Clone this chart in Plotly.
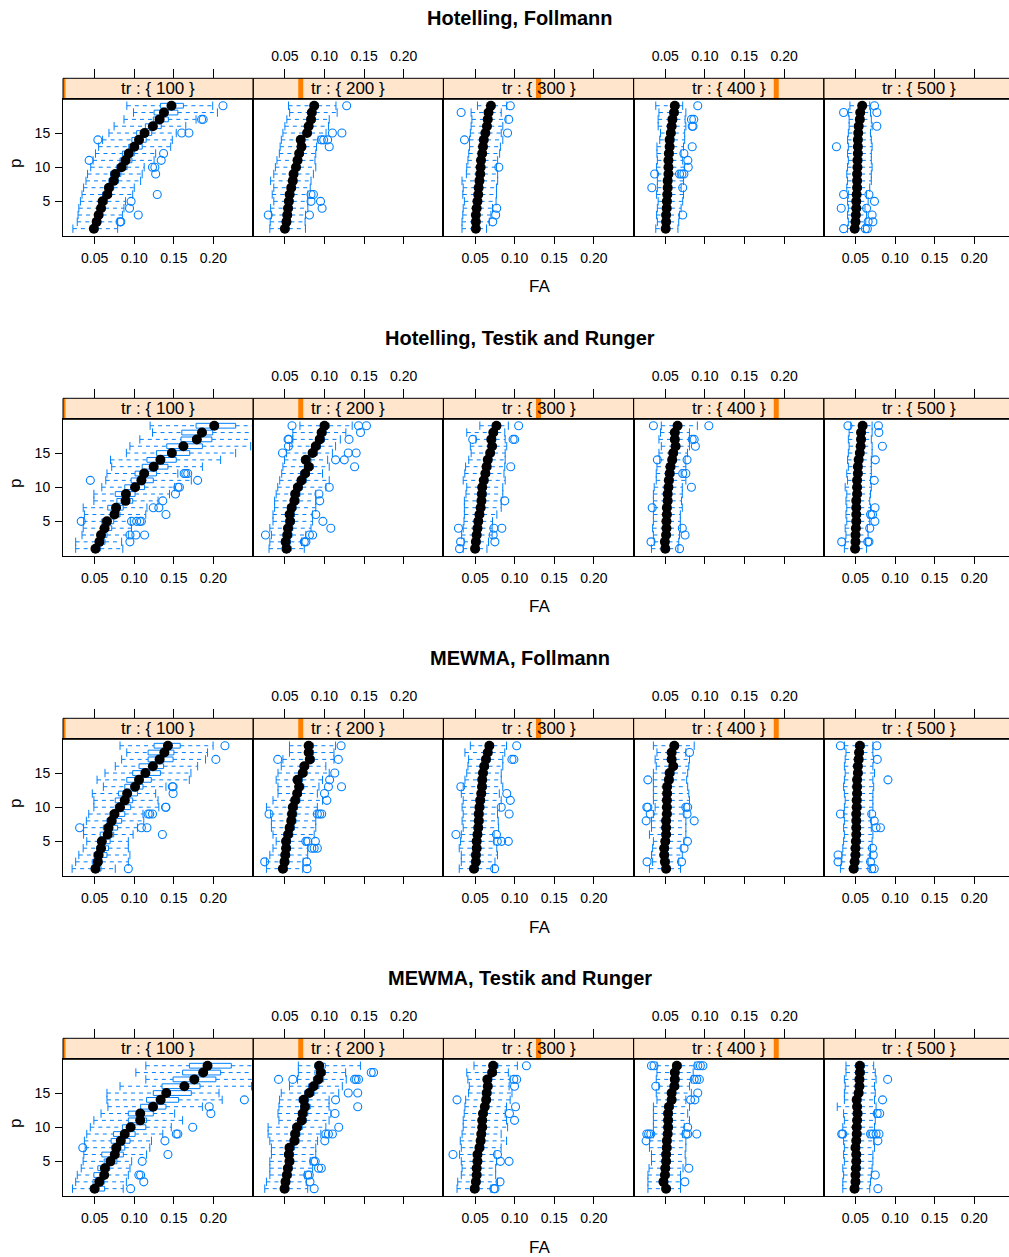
import plotly.graph_objects as go

# ---------------- data ----------------
P = list(range(1, 20))
TR = [100, 200, 300, 400, 500]
TITLES = ["Hotelling, Follmann", "Hotelling, Testik and Runger",
          "MEWMA, Follmann", "MEWMA, Testik and Runger"]
X_TICKS = [0.05, 0.10, 0.15, 0.20]
X_TICK_TEXT = ["0.05", "0.10", "0.15", "0.20"]
Y_TICKS = [5, 10, 15]

# ---- Hotelling, Follmann ----
HF100_med = [0.049, 0.0525, 0.055, 0.058, 0.060, 0.066, 0.068, 0.074, 0.076, 0.084, 0.089, 0.093, 0.100, 0.106, 0.113, 0.1235, 0.132, 0.1375, 0.147]
HF100_lo = [0.0225, 0.028, 0.029, 0.030, 0.032, 0.034, 0.036, 0.039, 0.041, 0.045, 0.048, 0.051, 0.055, 0.060, 0.068, 0.0745, 0.087, 0.099, 0.0906]
HF100_hi = [0.079, 0.079, 0.085, 0.087, 0.089, 0.098, 0.100, 0.108, 0.110, 0.1125, 0.125, 0.127, 0.146, 0.148, 0.153, 0.165, 0.178, 0.205, 0.199]
HF100_q1 = [0.045, 0.049, 0.051, 0.054, 0.056, 0.060, 0.063, 0.068, 0.070, 0.078, 0.082, 0.085, 0.093, 0.097, 0.103, 0.114, 0.124, 0.125, 0.133]
HF100_q3 = [0.054, 0.057, 0.060, 0.063, 0.066, 0.071, 0.074, 0.080, 0.083, 0.091, 0.097, 0.100, 0.110, 0.115, 0.122, 0.134, 0.143, 0.155, 0.162]
HF100_out_p = [19, 17, 17, 15, 15, 14, 12, 11, 11, 10, 10, 9, 6, 5, 4, 3, 2, 2]
HF100_out_x = [0.212, 0.185, 0.187, 0.160, 0.169, 0.054, 0.137, 0.043, 0.134, 0.123, 0.126, 0.127, 0.129, 0.096, 0.094, 0.105, 0.082, 0.083]

HF200_med = [0.050, 0.052, 0.053, 0.054, 0.055, 0.056, 0.058, 0.060, 0.061, 0.064, 0.066, 0.068, 0.071, 0.070, 0.078, 0.080, 0.083, 0.084, 0.087]
HF200_lo = [0.031, 0.0315, 0.033, 0.032, 0.036, 0.034, 0.036, 0.032, 0.036, 0.038, 0.040, 0.043, 0.044, 0.0455, 0.0475, 0.050, 0.0525, 0.056, 0.0546]
HF200_hi = [0.076, 0.0755, 0.076, 0.079, 0.079, 0.079, 0.082, 0.083, 0.086, 0.089, 0.088, 0.089, 0.090, 0.092, 0.102, 0.105, 0.106, 0.116, 0.1145]
HF200_q1 = [0.046, 0.048, 0.049, 0.050, 0.051, 0.052, 0.054, 0.056, 0.057, 0.060, 0.062, 0.064, 0.067, 0.066, 0.074, 0.076, 0.079, 0.080, 0.083]
HF200_q3 = [0.055, 0.057, 0.058, 0.059, 0.060, 0.061, 0.063, 0.065, 0.066, 0.069, 0.071, 0.073, 0.076, 0.075, 0.083, 0.085, 0.088, 0.089, 0.092]
HF200_out_p = [19, 15, 15, 14, 14, 14, 13, 6, 6, 5, 5, 4, 3, 3]
HF200_out_x = [0.128, 0.110, 0.122, 0.096, 0.099, 0.104, 0.106, 0.083, 0.086, 0.083, 0.095, 0.097, 0.029, 0.081]

HF300_med = [0.051, 0.051, 0.051, 0.052, 0.053, 0.054, 0.0545, 0.0555, 0.0565, 0.057, 0.0575, 0.059, 0.060, 0.061, 0.063, 0.065, 0.066, 0.067, 0.070]
HF300_lo = [0.0335, 0.0335, 0.0345, 0.035, 0.0365, 0.0345, 0.035, 0.0335, 0.039, 0.0395, 0.041, 0.042, 0.043, 0.043, 0.044, 0.045, 0.046, 0.045, 0.053]
HF300_hi = [0.0645, 0.068, 0.070, 0.072, 0.0765, 0.077, 0.077, 0.0785, 0.0785, 0.077, 0.0785, 0.081, 0.082, 0.085, 0.083, 0.085, 0.089, 0.083, 0.090]
HF300_q1 = [0.048, 0.048, 0.048, 0.049, 0.050, 0.051, 0.051, 0.052, 0.053, 0.054, 0.054, 0.056, 0.057, 0.058, 0.060, 0.062, 0.063, 0.064, 0.067]
HF300_q3 = [0.055, 0.055, 0.055, 0.056, 0.057, 0.058, 0.059, 0.060, 0.061, 0.061, 0.062, 0.063, 0.064, 0.065, 0.067, 0.069, 0.070, 0.071, 0.074]
HF300_out_p = [19, 18, 17, 15, 14, 10, 4, 3, 2]
HF300_out_x = [0.0945, 0.0324, 0.0925, 0.091, 0.0366, 0.080, 0.0773, 0.076, 0.0723]

HF400_med = [0.0505, 0.051, 0.051, 0.0517, 0.052, 0.0525, 0.053, 0.053, 0.054, 0.054, 0.054, 0.0545, 0.0555, 0.0555, 0.057, 0.058, 0.059, 0.061, 0.062]
HF400_lo = [0.038, 0.040, 0.039, 0.040, 0.041, 0.039, 0.040, 0.040, 0.040, 0.039, 0.040, 0.0395, 0.0395, 0.043, 0.044, 0.041, 0.041, 0.042, 0.038]
HF400_hi = [0.066, 0.067, 0.068, 0.070, 0.072, 0.073, 0.070, 0.073, 0.066, 0.074, 0.072, 0.070, 0.073, 0.0745, 0.0745, 0.076, 0.075, 0.076, 0.072]
HF400_q1 = [0.047, 0.047, 0.047, 0.048, 0.048, 0.049, 0.049, 0.049, 0.050, 0.050, 0.050, 0.051, 0.051, 0.052, 0.053, 0.054, 0.055, 0.057, 0.058]
HF400_q3 = [0.055, 0.056, 0.056, 0.057, 0.057, 0.058, 0.058, 0.058, 0.059, 0.059, 0.059, 0.060, 0.060, 0.061, 0.062, 0.063, 0.064, 0.066, 0.067]
HF400_out_p = [19, 17, 17, 16, 16, 13, 12, 11, 10, 9, 9, 9, 9, 7, 7, 3]
HF400_out_x = [0.091, 0.083, 0.086, 0.084, 0.085, 0.084, 0.0735, 0.0785, 0.079, 0.0366, 0.068, 0.071, 0.0735, 0.033, 0.072, 0.072]

HF500_med = [0.049, 0.050, 0.0505, 0.051, 0.051, 0.0515, 0.052, 0.052, 0.052, 0.0525, 0.0525, 0.053, 0.053, 0.053, 0.0535, 0.054, 0.0555, 0.056, 0.0585]
HF500_lo = [0.040, 0.041, 0.040, 0.041, 0.040, 0.041, 0.039, 0.040, 0.039, 0.040, 0.041, 0.040, 0.041, 0.040, 0.041, 0.042, 0.042, 0.041, 0.043]
HF500_hi = [0.060, 0.063, 0.064, 0.062, 0.066, 0.064, 0.068, 0.070, 0.070, 0.071, 0.070, 0.070, 0.071, 0.070, 0.069, 0.071, 0.070, 0.069, 0.068]
HF500_q1 = [0.046, 0.046, 0.047, 0.047, 0.047, 0.048, 0.048, 0.048, 0.048, 0.049, 0.049, 0.049, 0.049, 0.049, 0.050, 0.050, 0.052, 0.052, 0.055]
HF500_q3 = [0.054, 0.055, 0.055, 0.056, 0.056, 0.056, 0.057, 0.057, 0.057, 0.057, 0.058, 0.058, 0.058, 0.058, 0.058, 0.059, 0.060, 0.061, 0.063]
HF500_out_p = [19, 18, 18, 16, 13, 6, 6, 5, 4, 4, 3, 2, 2, 1, 1, 1]
HF500_out_x = [0.074, 0.035, 0.077, 0.077, 0.026, 0.035, 0.067, 0.074, 0.032, 0.064, 0.071, 0.066, 0.072, 0.035, 0.0625, 0.065]

# ---- Hotelling, Testik and Runger ----
HT100_med = [0.051, 0.056, 0.058, 0.0625, 0.0655, 0.075, 0.077, 0.089, 0.0895, 0.101, 0.109, 0.1125, 0.1245, 0.133, 0.1475, 0.162, 0.179, 0.1855, 0.201]
HT100_lo = [0.026, 0.026, 0.034, 0.0355, 0.036, 0.037, 0.0355, 0.049, 0.049, 0.059, 0.064, 0.0655, 0.0715, 0.070, 0.090, 0.0945, 0.107, 0.123, 0.120]
HT100_hi = [0.0855, 0.084, 0.0925, 0.0965, 0.095, 0.1145, 0.116, 0.130, 0.1445, 0.151, 0.172, 0.155, 0.186, 0.209, 0.228, 0.247, 0.26, 0.26, 0.26]
HT100_q1 = [0.047, 0.052, 0.054, 0.058, 0.059, 0.070, 0.0665, 0.078, 0.076, 0.088, 0.096, 0.101, 0.110, 0.116, 0.128, 0.141, 0.159, 0.160, 0.178]
HT100_q3 = [0.057, 0.063, 0.0655, 0.0715, 0.074, 0.082, 0.086, 0.098, 0.101, 0.113, 0.124, 0.128, 0.1425, 0.153, 0.170, 0.186, 0.198, 0.199, 0.228]
HT100_out_p = [12, 12, 12, 11, 11, 10, 10, 9, 8, 7, 7, 6, 5, 5, 5, 5, 5, 3, 3, 3, 2]
HT100_out_x = [0.163, 0.165, 0.1675, 0.0445, 0.180, 0.155, 0.157, 0.152, 0.136, 0.124, 0.131, 0.140, 0.033, 0.0965, 0.103, 0.107, 0.109, 0.0945, 0.102, 0.113, 0.0945]

HT200_med = [0.052, 0.051, 0.053, 0.054, 0.0565, 0.056, 0.0585, 0.062, 0.063, 0.0665, 0.071, 0.0755, 0.080, 0.0765, 0.085, 0.089, 0.094, 0.0965, 0.100]
HT200_lo = [0.030, 0.031, 0.033, 0.031, 0.035, 0.035, 0.037, 0.037, 0.039, 0.041, 0.0435, 0.046, 0.0475, 0.0495, 0.052, 0.056, 0.060, 0.060, 0.069]
HT200_hi = [0.0745, 0.071, 0.0765, 0.083, 0.085, 0.085, 0.089, 0.089, 0.089, 0.102, 0.106, 0.0975, 0.106, 0.104, 0.110, 0.114, 0.120, 0.127, 0.135]
HT200_q1 = [0.047, 0.046, 0.048, 0.049, 0.052, 0.051, 0.054, 0.057, 0.058, 0.061, 0.066, 0.070, 0.075, 0.071, 0.080, 0.084, 0.089, 0.091, 0.095]
HT200_q3 = [0.058, 0.057, 0.059, 0.060, 0.062, 0.062, 0.064, 0.068, 0.069, 0.072, 0.077, 0.081, 0.086, 0.083, 0.091, 0.095, 0.100, 0.102, 0.106]
HT200_out_p = [19, 19, 19, 18, 17, 17, 17, 16, 15, 15, 15, 14, 14, 13, 10, 9, 8, 6, 5, 4, 3, 3, 3, 2, 2]
HT200_out_x = [0.059, 0.143, 0.153, 0.1455, 0.054, 0.055, 0.131, 0.0545, 0.047, 0.130, 0.140, 0.114, 0.125, 0.138, 0.106, 0.093, 0.094, 0.089, 0.098, 0.108, 0.0255, 0.081, 0.085, 0.0745, 0.0765]

HT300_med = [0.050, 0.051, 0.052, 0.053, 0.054, 0.0555, 0.057, 0.058, 0.0585, 0.059, 0.061, 0.063, 0.0645, 0.066, 0.069, 0.0715, 0.0705, 0.073, 0.077]
HT300_lo = [0.035, 0.036, 0.033, 0.035, 0.036, 0.0365, 0.0365, 0.0365, 0.0385, 0.0395, 0.035, 0.037, 0.038, 0.042, 0.045, 0.044, 0.051, 0.0395, 0.056]
HT300_hi = [0.065, 0.067, 0.0715, 0.0715, 0.072, 0.0775, 0.083, 0.083, 0.085, 0.085, 0.088, 0.0865, 0.0875, 0.088, 0.088, 0.090, 0.088, 0.0875, 0.092]
HT300_q1 = [0.047, 0.048, 0.049, 0.050, 0.051, 0.052, 0.054, 0.055, 0.055, 0.056, 0.058, 0.060, 0.061, 0.063, 0.066, 0.068, 0.067, 0.070, 0.073]
HT300_q3 = [0.055, 0.056, 0.057, 0.058, 0.059, 0.060, 0.062, 0.063, 0.064, 0.064, 0.066, 0.068, 0.070, 0.071, 0.074, 0.076, 0.076, 0.078, 0.082]
HT300_out_p = [19, 17, 17, 17, 13, 8, 4, 4, 4, 3, 2, 2, 1]
HT300_out_x = [0.105, 0.047, 0.098, 0.100, 0.095, 0.0875, 0.029, 0.0737, 0.0838, 0.0728, 0.0317, 0.075, 0.0304]

HT400_med = [0.050, 0.0495, 0.051, 0.0515, 0.0515, 0.052, 0.052, 0.053, 0.053, 0.054, 0.0545, 0.0555, 0.0565, 0.0587, 0.060, 0.063, 0.062, 0.062, 0.0655]
HT400_lo = [0.0326, 0.036, 0.035, 0.034, 0.035, 0.035, 0.036, 0.035, 0.035, 0.036, 0.0386, 0.0386, 0.0395, 0.043, 0.042, 0.045, 0.042, 0.044, 0.045]
HT400_hi = [0.066, 0.067, 0.068, 0.069, 0.069, 0.069, 0.0715, 0.0705, 0.0715, 0.0715, 0.076, 0.070, 0.076, 0.075, 0.078, 0.0805, 0.0805, 0.0805, 0.0905]
HT400_q1 = [0.046, 0.046, 0.047, 0.048, 0.048, 0.048, 0.048, 0.049, 0.049, 0.050, 0.051, 0.052, 0.053, 0.055, 0.056, 0.059, 0.058, 0.058, 0.061]
HT400_q3 = [0.055, 0.054, 0.056, 0.056, 0.056, 0.057, 0.057, 0.058, 0.058, 0.059, 0.060, 0.061, 0.062, 0.064, 0.065, 0.068, 0.067, 0.067, 0.070]
HT400_out_p = [19, 19, 17, 17, 16, 14, 14, 12, 12, 10, 7, 4, 3, 2, 1]
HT400_out_x = [0.035, 0.105, 0.084, 0.0865, 0.088, 0.040, 0.0775, 0.072, 0.076, 0.083, 0.0335, 0.0715, 0.075, 0.032, 0.068]

HT500_med = [0.0495, 0.050, 0.050, 0.0505, 0.051, 0.051, 0.051, 0.051, 0.052, 0.052, 0.052, 0.053, 0.053, 0.054, 0.0555, 0.0565, 0.057, 0.057, 0.059]
HT500_lo = [0.036, 0.037, 0.038, 0.037, 0.039, 0.038, 0.039, 0.038, 0.039, 0.037, 0.040, 0.039, 0.041, 0.040, 0.041, 0.042, 0.041, 0.042, 0.044]
HT500_hi = [0.064, 0.063, 0.066, 0.065, 0.068, 0.066, 0.069, 0.068, 0.069, 0.070, 0.069, 0.070, 0.070, 0.070, 0.071, 0.071, 0.070, 0.071, 0.071]
HT500_q1 = [0.046, 0.046, 0.046, 0.047, 0.047, 0.047, 0.047, 0.047, 0.048, 0.048, 0.048, 0.049, 0.049, 0.050, 0.052, 0.053, 0.053, 0.053, 0.055]
HT500_q3 = [0.054, 0.055, 0.055, 0.055, 0.056, 0.056, 0.056, 0.056, 0.057, 0.057, 0.057, 0.058, 0.058, 0.059, 0.060, 0.061, 0.062, 0.062, 0.064]
HT500_out_p = [19, 19, 18, 16, 14, 11, 7, 6, 6, 5, 4, 2, 2, 2]
HT500_out_x = [0.0405, 0.079, 0.0795, 0.084, 0.075, 0.0737, 0.0747, 0.069, 0.0715, 0.0745, 0.068, 0.0326, 0.0655, 0.067]

# ---- MEWMA, Follmann ----
MF100_med = [0.051, 0.054, 0.055, 0.058, 0.059, 0.0665, 0.0675, 0.0715, 0.075, 0.082, 0.088, 0.091, 0.101, 0.106, 0.114, 0.1235, 0.132, 0.138, 0.1425]
MF100_lo = [0.0215, 0.026, 0.030, 0.0355, 0.040, 0.036, 0.036, 0.0395, 0.0425, 0.049, 0.049, 0.047, 0.061, 0.053, 0.063, 0.076, 0.084, 0.0905, 0.082]
MF100_hi = [0.076, 0.0925, 0.0945, 0.0925, 0.0925, 0.0985, 0.104, 0.112, 0.111, 0.131, 0.130, 0.127, 0.140, 0.1695, 0.1715, 0.180, 0.190, 0.1925, 0.1995]
MF100_q1 = [0.046, 0.047, 0.049, 0.053, 0.055, 0.057, 0.061, 0.0655, 0.0695, 0.076, 0.076, 0.080, 0.088, 0.0905, 0.098, 0.106, 0.1175, 0.1175, 0.125]
MF100_q3 = [0.058, 0.059, 0.0655, 0.0675, 0.0695, 0.074, 0.079, 0.084, 0.088, 0.0955, 0.098, 0.104, 0.111, 0.1215, 0.133, 0.137, 0.149, 0.150, 0.158]
MF100_out_p = [19, 17, 13, 13, 12, 10, 10, 9, 9, 9, 7, 7, 7, 6, 1]
MF100_out_x = [0.2145, 0.203, 0.148, 0.149, 0.149, 0.1395, 0.140, 0.1175, 0.1195, 0.123, 0.031, 0.109, 0.116, 0.1355, 0.0925]

MF200_med = [0.0475, 0.0495, 0.0505, 0.0515, 0.0515, 0.054, 0.056, 0.058, 0.059, 0.060, 0.063, 0.0655, 0.068, 0.066, 0.0725, 0.0745, 0.0815, 0.080, 0.080]
MF200_lo = [0.0267, 0.0267, 0.031, 0.035, 0.039, 0.035, 0.033, 0.033, 0.032, 0.0267, 0.035, 0.0413, 0.0413, 0.039, 0.0413, 0.0454, 0.0475, 0.0558, 0.0558]
MF200_hi = [0.0725, 0.073, 0.0788, 0.0788, 0.074, 0.087, 0.089, 0.089, 0.089, 0.091, 0.0975, 0.091, 0.093, 0.0975, 0.106, 0.1017, 0.112, 0.112, 0.114]
MF200_q1 = [0.044, 0.045, 0.046, 0.047, 0.047, 0.050, 0.052, 0.054, 0.055, 0.056, 0.059, 0.061, 0.064, 0.062, 0.068, 0.070, 0.077, 0.076, 0.076]
MF200_q3 = [0.053, 0.055, 0.056, 0.057, 0.057, 0.060, 0.062, 0.064, 0.065, 0.066, 0.069, 0.071, 0.074, 0.072, 0.078, 0.080, 0.087, 0.086, 0.086]
MF200_out_p = [19, 17, 17, 15, 14, 13, 13, 12, 11, 9, 9, 9, 9, 5, 5, 5, 4, 4, 4, 2, 2, 1]
MF200_out_x = [0.121, 0.041, 0.1175, 0.113, 0.1065, 0.105, 0.1215, 0.100, 0.103, 0.030, 0.091, 0.094, 0.0965, 0.0765, 0.079, 0.0885, 0.084, 0.087, 0.091, 0.0245, 0.0775, 0.078]

MF300_med = [0.0486, 0.051, 0.051, 0.052, 0.052, 0.053, 0.054, 0.0546, 0.0546, 0.0555, 0.0564, 0.0578, 0.0587, 0.059, 0.060, 0.0615, 0.0637, 0.066, 0.068]
MF300_lo = [0.030, 0.0326, 0.0326, 0.030, 0.0317, 0.0326, 0.035, 0.0336, 0.035, 0.0336, 0.035, 0.0326, 0.035, 0.0372, 0.0395, 0.041, 0.0418, 0.0372, 0.044]
MF300_hi = [0.072, 0.0751, 0.0783, 0.0774, 0.074, 0.074, 0.0797, 0.0792, 0.0783, 0.0806, 0.083, 0.0806, 0.085, 0.083, 0.083, 0.085, 0.085, 0.0875, 0.0897]
MF300_q1 = [0.045, 0.047, 0.047, 0.048, 0.048, 0.049, 0.050, 0.050, 0.050, 0.051, 0.052, 0.054, 0.055, 0.055, 0.056, 0.057, 0.060, 0.062, 0.064]
MF300_q3 = [0.054, 0.056, 0.056, 0.057, 0.057, 0.058, 0.059, 0.060, 0.060, 0.061, 0.062, 0.063, 0.064, 0.064, 0.065, 0.067, 0.069, 0.071, 0.073]
MF300_out_p = [19, 17, 17, 13, 12, 11, 10, 9, 6, 6, 5, 5, 5, 1]
MF300_out_x = [0.1025, 0.0965, 0.099, 0.032, 0.090, 0.0945, 0.083, 0.093, 0.0258, 0.077, 0.078, 0.0835, 0.092, 0.0747]

MF400_med = [0.051, 0.0495, 0.0486, 0.0486, 0.050, 0.051, 0.051, 0.051, 0.052, 0.052, 0.052, 0.0523, 0.0523, 0.0545, 0.0555, 0.060, 0.058, 0.058, 0.0614]
MF400_lo = [0.030, 0.034, 0.0326, 0.034, 0.035, 0.030, 0.0326, 0.0326, 0.035, 0.0372, 0.035, 0.035, 0.035, 0.035, 0.035, 0.0386, 0.0372, 0.0395, 0.035]
MF400_hi = [0.0692, 0.067, 0.0715, 0.070, 0.0737, 0.076, 0.076, 0.076, 0.0737, 0.0737, 0.0806, 0.0797, 0.0783, 0.077, 0.0783, 0.0797, 0.0806, 0.076, 0.0865]
MF400_q1 = [0.047, 0.046, 0.045, 0.045, 0.046, 0.047, 0.047, 0.047, 0.048, 0.048, 0.048, 0.048, 0.048, 0.050, 0.051, 0.056, 0.054, 0.054, 0.057]
MF400_q3 = [0.056, 0.055, 0.054, 0.054, 0.055, 0.056, 0.056, 0.056, 0.057, 0.057, 0.057, 0.057, 0.057, 0.060, 0.061, 0.065, 0.063, 0.063, 0.066]
MF400_out_p = [18, 14, 10, 10, 10, 10, 9, 9, 8, 8, 5, 4, 2, 2]
MF400_out_x = [0.0806, 0.028, 0.0267, 0.028, 0.076, 0.0783, 0.031, 0.0775, 0.0258, 0.0865, 0.078, 0.0737, 0.027, 0.0705]

MF500_med = [0.0477, 0.049, 0.050, 0.050, 0.0505, 0.051, 0.051, 0.051, 0.051, 0.0515, 0.0515, 0.052, 0.052, 0.052, 0.053, 0.053, 0.054, 0.0545, 0.0555]
MF500_lo = [0.031, 0.032, 0.033, 0.034, 0.035, 0.036, 0.035, 0.036, 0.035, 0.036, 0.037, 0.036, 0.035, 0.036, 0.037, 0.036, 0.037, 0.038, 0.036]
MF500_hi = [0.068, 0.066, 0.069, 0.069, 0.071, 0.072, 0.070, 0.070, 0.068, 0.072, 0.072, 0.072, 0.073, 0.072, 0.074, 0.072, 0.073, 0.072, 0.072]
MF500_q1 = [0.044, 0.045, 0.046, 0.046, 0.047, 0.047, 0.047, 0.047, 0.047, 0.048, 0.048, 0.048, 0.048, 0.048, 0.049, 0.049, 0.050, 0.051, 0.052]
MF500_q3 = [0.053, 0.054, 0.055, 0.055, 0.056, 0.056, 0.056, 0.056, 0.056, 0.057, 0.057, 0.057, 0.057, 0.057, 0.058, 0.058, 0.059, 0.060, 0.061]
MF500_out_p = [19, 19, 17, 14, 9, 9, 8, 7, 7, 4, 3, 3, 2, 2, 1, 1]
MF500_out_x = [0.031, 0.077, 0.0775, 0.091, 0.031, 0.0705, 0.0737, 0.076, 0.0815, 0.0715, 0.028, 0.0724, 0.028, 0.069, 0.0705, 0.0737]

# ---- MEWMA, Testik and Runger ----
MT100_med = [0.050, 0.0558, 0.062, 0.0629, 0.070, 0.0754, 0.0775, 0.083, 0.088, 0.0954, 0.1075, 0.1075, 0.1237, 0.1333, 0.1404, 0.1633, 0.1758, 0.187, 0.1925]
MT100_lo = [0.022, 0.026, 0.028, 0.033, 0.0354, 0.0363, 0.038, 0.037, 0.040, 0.0445, 0.049, 0.058, 0.0667, 0.0655, 0.0655, 0.082, 0.1146, 0.102, 0.1146]
MT100_hi = [0.086, 0.090, 0.0925, 0.0946, 0.0967, 0.1155, 0.1196, 0.1217, 0.136, 0.1467, 0.161, 0.151, 0.186, 0.211, 0.207, 0.248, 0.26, 0.26, 0.26]
MT100_q1 = [0.0446, 0.048, 0.049, 0.054, 0.062, 0.059, 0.0717, 0.0708, 0.0737, 0.085, 0.0925, 0.0925, 0.108, 0.1155, 0.124, 0.135, 0.149, 0.161, 0.1696]
MT100_q3 = [0.0625, 0.062, 0.066, 0.069, 0.078, 0.0862, 0.088, 0.0946, 0.101, 0.1146, 0.1155, 0.124, 0.140, 0.156, 0.172, 0.183, 0.203, 0.209, 0.2225]
MT100_out_p = [14, 13, 12, 10, 9, 9, 8, 7, 6, 5, 3, 3, 2, 1]
MT100_out_x = [0.239, 0.1946, 0.1967, 0.1738, 0.153, 0.155, 0.1387, 0.035, 0.1425, 0.110, 0.1058, 0.108, 0.112, 0.0954]

MT200_med = [0.0496, 0.0508, 0.0525, 0.0538, 0.0558, 0.055, 0.0558, 0.062, 0.0629, 0.0654, 0.0713, 0.0725, 0.0754, 0.0738, 0.0808, 0.0863, 0.0921, 0.0954, 0.0933]
MT200_lo = [0.0246, 0.0267, 0.031, 0.031, 0.031, 0.033, 0.033, 0.031, 0.0288, 0.0288, 0.0425, 0.0413, 0.0425, 0.0433, 0.0454, 0.0558, 0.066, 0.067, 0.067]
MT200_hi = [0.0788, 0.077, 0.075, 0.085, 0.082, 0.089, 0.089, 0.0913, 0.0954, 0.1017, 0.1058, 0.108, 0.1058, 0.1058, 0.118, 0.1225, 0.1275, 0.1267, 0.1454]
MT200_q1 = [0.045, 0.046, 0.048, 0.049, 0.051, 0.050, 0.051, 0.057, 0.058, 0.060, 0.066, 0.067, 0.070, 0.068, 0.075, 0.080, 0.086, 0.088, 0.088]
MT200_q3 = [0.055, 0.056, 0.058, 0.059, 0.061, 0.061, 0.062, 0.068, 0.069, 0.072, 0.077, 0.079, 0.082, 0.080, 0.087, 0.093, 0.099, 0.101, 0.101]
MT200_out_p = [18, 18, 17, 17, 17, 17, 17, 15, 15, 14, 13, 12, 10, 9, 9, 9, 8, 5, 5, 4, 4, 3, 3, 2, 1]
MT200_out_x = [0.159, 0.162, 0.042, 0.060, 0.138, 0.140, 0.143, 0.130, 0.142, 0.114, 0.142, 0.1133, 0.118, 0.1017, 0.105, 0.110, 0.1004, 0.0863, 0.0883, 0.0925, 0.096, 0.0788, 0.0808, 0.0817, 0.087]

MT300_med = [0.0495, 0.051, 0.052, 0.052, 0.053, 0.053, 0.0555, 0.057, 0.0578, 0.059, 0.059, 0.060, 0.0623, 0.064, 0.0646, 0.066, 0.0655, 0.0715, 0.0728]
MT300_lo = [0.0272, 0.0281, 0.0326, 0.0336, 0.0326, 0.0304, 0.0326, 0.0313, 0.0336, 0.035, 0.035, 0.0363, 0.0372, 0.0381, 0.0418, 0.0427, 0.0409, 0.0395, 0.0486]
MT300_hi = [0.070, 0.0783, 0.076, 0.076, 0.077, 0.075, 0.0829, 0.0897, 0.0829, 0.0911, 0.0897, 0.088, 0.0897, 0.0943, 0.0966, 0.093, 0.0943, 0.092, 0.1034]
MT300_q1 = [0.046, 0.047, 0.048, 0.048, 0.049, 0.049, 0.051, 0.053, 0.054, 0.055, 0.055, 0.056, 0.058, 0.060, 0.060, 0.062, 0.061, 0.067, 0.068]
MT300_q3 = [0.055, 0.056, 0.057, 0.057, 0.058, 0.058, 0.061, 0.062, 0.063, 0.064, 0.064, 0.065, 0.067, 0.069, 0.070, 0.071, 0.071, 0.077, 0.079]
MT300_out_p = [19, 17, 17, 16, 14, 13, 12, 11, 6, 6, 5, 5, 2, 1, 1]
MT300_out_x = [0.1148, 0.0989, 0.1025, 0.0998, 0.0272, 0.1011, 0.0934, 0.0998, 0.0221, 0.0783, 0.082, 0.0929, 0.0815, 0.0737, 0.0751]

MT400_med = [0.051, 0.0477, 0.0495, 0.050, 0.051, 0.051, 0.0518, 0.052, 0.053, 0.0535, 0.0535, 0.0535, 0.0546, 0.058, 0.058, 0.0614, 0.062, 0.062, 0.0646]
MT400_lo = [0.0281, 0.0281, 0.0281, 0.0295, 0.0326, 0.0326, 0.030, 0.030, 0.035, 0.035, 0.035, 0.035, 0.035, 0.0395, 0.0386, 0.0418, 0.0386, 0.0395, 0.0395]
MT400_hi = [0.0692, 0.0692, 0.0692, 0.0724, 0.076, 0.0751, 0.076, 0.076, 0.072, 0.074, 0.0806, 0.0783, 0.0806, 0.076, 0.0829, 0.0806, 0.0829, 0.0852, 0.0874]
MT400_q1 = [0.047, 0.044, 0.046, 0.046, 0.047, 0.047, 0.048, 0.048, 0.049, 0.049, 0.049, 0.049, 0.050, 0.054, 0.054, 0.057, 0.058, 0.058, 0.060]
MT400_q3 = [0.056, 0.053, 0.055, 0.055, 0.056, 0.056, 0.057, 0.057, 0.058, 0.059, 0.059, 0.059, 0.060, 0.063, 0.063, 0.067, 0.067, 0.067, 0.070]
MT400_out_p = [19, 19, 19, 19, 19, 17, 17, 17, 16, 15, 14, 14, 10, 9, 9, 9, 9, 9, 9, 8, 4, 2]
MT400_out_x = [0.0326, 0.0358, 0.091, 0.0943, 0.0975, 0.0865, 0.0897, 0.093, 0.038, 0.091, 0.082, 0.0874, 0.0783, 0.0267, 0.029, 0.0317, 0.076, 0.0783, 0.0897, 0.0258, 0.0797, 0.0747]

MT500_med = [0.0488, 0.050, 0.050, 0.0505, 0.051, 0.051, 0.050, 0.051, 0.0515, 0.0515, 0.052, 0.0525, 0.052, 0.0515, 0.054, 0.055, 0.055, 0.0555, 0.0555]
MT500_lo = [0.034, 0.034, 0.035, 0.034, 0.036, 0.035, 0.036, 0.035, 0.037, 0.034, 0.036, 0.035, 0.027, 0.036, 0.036, 0.037, 0.036, 0.038, 0.038]
MT500_hi = [0.068, 0.069, 0.070, 0.071, 0.072, 0.072, 0.074, 0.073, 0.066, 0.074, 0.075, 0.074, 0.076, 0.074, 0.075, 0.074, 0.076, 0.075, 0.073]
MT500_q1 = [0.045, 0.046, 0.046, 0.047, 0.047, 0.047, 0.046, 0.047, 0.048, 0.048, 0.048, 0.049, 0.048, 0.048, 0.050, 0.051, 0.051, 0.052, 0.052]
MT500_q3 = [0.054, 0.055, 0.055, 0.056, 0.056, 0.056, 0.055, 0.056, 0.057, 0.057, 0.057, 0.058, 0.057, 0.057, 0.059, 0.060, 0.060, 0.061, 0.061]
MT500_out_p = [17, 14, 12, 12, 9, 9, 9, 9, 9, 9, 8, 3, 1]
MT500_out_x = [0.0906, 0.0842, 0.0774, 0.0806, 0.0326, 0.034, 0.069, 0.0724, 0.076, 0.0797, 0.0783, 0.075, 0.0783]

# table of panels built from the named lists (group row -> tr column)
G = globals()
PANELS = [[tuple(G[f"{pre}{tr}_{s}"] for s in ("lo", "q1", "med", "q3", "hi", "out_p", "out_x"))
           for tr in TR] for pre in ("HF", "HT", "MF", "MT")]

# ---------------- layout geometry ----------------
W, H = 1009, 1257
BLUE = "#0080ff"
STRIP_BG = "#ffe5cc"
STRIP_MARK = "#ff7f00"
FONT = "Liberation Sans, Arial, Helvetica, sans-serif"
LEFT = 63.0
PW = 190.2
GROUP_DY = 320.0
STRIP_TOP = 78.3
PANEL_TOP = 99.3
PANEL_BOT = 235.5
X_MIN = 0.010
PX_PER_UNIT = 792.0
Y_RANGE = [0.0, 19.94]


def px(x):
    return x / W


def py(y):
    return 1 - y / H


fig = go.Figure()
axes = {}
shapes = []
annotations = []

for g in range(4):
    dy = g * GROUP_DY
    for k in range(5):
        i = g * 5 + k + 1
        x0 = LEFT + k * PW
        x1 = min(x0 + PW, W)
        xmax = X_MIN + (x1 - x0) / PX_PER_UNIT
        lo, q1, med, q3, hi, op, ox = PANELS[g][k]
        xa, ya = f"x{i}", f"y{i}"

        wx, wy = [], []
        for p, a, b, c, d in zip(P, lo, q1, q3, hi):
            wx += [a, b, None, c, d, None]
            wy += [p, p, None, p, p, None]
        fig.add_trace(go.Scatter(x=wx, y=wy, mode="lines", hoverinfo="skip",
                                 line=dict(color=BLUE, width=1, dash="4px,4px"),
                                 xaxis=xa, yaxis=ya))
        fig.add_trace(go.Scatter(x=lo + hi, y=P + P, mode="markers", hoverinfo="skip",
                                 marker=dict(symbol="line-ns", size=6, color=BLUE,
                                             line=dict(color=BLUE, width=1)),
                                 xaxis=xa, yaxis=ya))
        fig.add_trace(go.Box(orientation="h", y=P, q1=q1, median=med, q3=q3,
                             lowerfence=q1, upperfence=q3, width=0.7,
                             fillcolor="white", line=dict(color=BLUE, width=1),
                             whiskerwidth=0, boxpoints=False, hoverinfo="skip",
                             xaxis=xa, yaxis=ya))
        fig.add_trace(go.Scatter(x=ox, y=op, mode="markers",
                                 marker=dict(symbol="circle-open", size=8, color=BLUE,
                                             line=dict(color=BLUE, width=1.1)),
                                 xaxis=xa, yaxis=ya))
        fig.add_trace(go.Scatter(x=med, y=P, mode="markers",
                                 marker=dict(symbol="circle", size=10, color="black"),
                                 xaxis=xa, yaxis=ya))
        # helper trace so the top (strip) axis is rendered
        fig.add_trace(go.Scatter(x=[None], y=[None], mode="markers",
                                 xaxis=f"x{20 + i}", yaxis=ya, hoverinfo="skip"))

        tickfont = dict(family=FONT, size=14, color="black")
        axes[f"xaxis{i}"] = dict(
            domain=[px(x0), px(x1)], anchor=ya, range=[X_MIN, xmax],
            tickmode="array", tickvals=X_TICKS, ticktext=X_TICK_TEXT,
            ticks="outside", ticklen=7, tickwidth=1, tickcolor="black",
            showticklabels=(k % 2 == 0), tickfont=tickfont, ticklabelstandoff=3,
            showline=True, linecolor="black", linewidth=1, mirror=True,
            showgrid=False, zeroline=False, fixedrange=True)
        axes[f"xaxis{20 + i}"] = dict(
            overlaying=xa, anchor="free", position=py(STRIP_TOP + dy), side="top",
            range=[X_MIN, xmax], tickmode="array", tickvals=X_TICKS, ticktext=X_TICK_TEXT,
            ticks="outside", ticklen=9, tickwidth=1, tickcolor="black",
            showticklabels=(k % 2 == 1), tickfont=tickfont, ticklabelstandoff=3,
            showline=False, showgrid=False, zeroline=False, fixedrange=True)
        axes[f"yaxis{i}"] = dict(
            domain=[py(PANEL_BOT + dy), py(PANEL_TOP + dy)], anchor=xa, range=Y_RANGE,
            tickmode="array", tickvals=Y_TICKS,
            ticks="outside" if k == 0 else "", ticklen=7, tickwidth=1, tickcolor="black",
            showticklabels=(k == 0), tickfont=tickfont, ticklabelstandoff=2,
            showline=True, linecolor="black", linewidth=1, mirror=(k < 4),
            showgrid=False, zeroline=False, fixedrange=True)

        # strip
        sy0, sy1 = py(PANEL_TOP + dy), py(STRIP_TOP + dy)
        shapes.append(dict(type="rect", xref="paper", yref="paper",
                           x0=px(x0), x1=px(x0 + PW), y0=sy0, y1=sy1,
                           fillcolor=STRIP_BG, line=dict(width=0), layer="below"))
        cx = x0 + k * PW / 4
        m0, m1 = max(cx - 2.5, x0), min(cx + 2.5, x0 + PW)
        if m0 < W:
            shapes.append(dict(type="rect", xref="paper", yref="paper",
                               x0=px(m0), x1=px(m1), y0=sy0, y1=sy1,
                               fillcolor=STRIP_MARK, line=dict(width=0), layer="below"))
        shapes.append(dict(type="rect", xref="paper", yref="paper",
                           x0=px(x0), x1=px(x0 + PW), y0=sy0, y1=sy1,
                           fillcolor="rgba(0,0,0,0)", line=dict(color="black", width=1)))
        annotations.append(dict(text=f"tr : {{ {TR[k]} }}", xref="paper", yref="paper",
                                x=px(x0 + PW / 2), y=py((STRIP_TOP + PANEL_TOP) / 2 + dy),
                                xanchor="center", yanchor="middle", showarrow=False,
                                font=dict(family=FONT, size=17, color="black")))

    annotations.append(dict(text=TITLES[g], xref="paper", yref="paper",
                            x=px(520), y=py(18 + dy), xanchor="center", yanchor="middle",
                            showarrow=False,
                            font=dict(family=FONT, size=20, color="black", weight="bold")))
    annotations.append(dict(text="FA", xref="paper", yref="paper",
                            x=px(539), y=py(287 + dy), xanchor="center", yanchor="middle",
                            showarrow=False, font=dict(family=FONT, size=17, color="black")))
    annotations.append(dict(text="p", xref="paper", yref="paper",
                            x=px(15), y=py(164 + dy), xanchor="center", yanchor="middle",
                            textangle=-90, showarrow=False,
                            font=dict(family=FONT, size=17, color="black")))

fig.update_layout(
    width=W, height=H, margin=dict(l=0, r=0, t=0, b=0),
    paper_bgcolor="white", plot_bgcolor="white",
    showlegend=False, boxmode="overlay",
    shapes=shapes, annotations=annotations, **axes)

fig.write_html("out.html")
